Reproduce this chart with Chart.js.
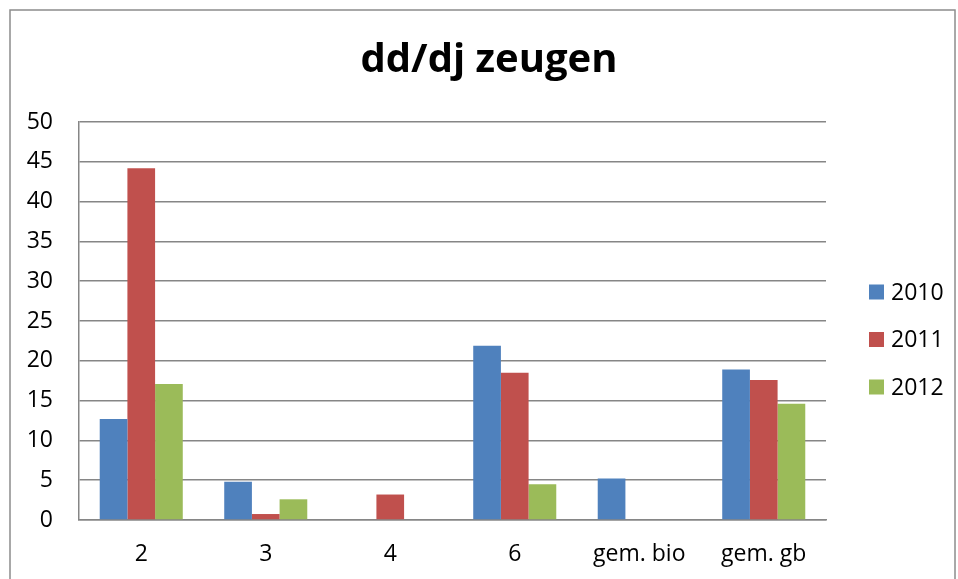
<!DOCTYPE html>
<html>
<head>
<meta charset="utf-8">
<script src="https://cdn.jsdelivr.net/npm/chart.js@4/dist/chart.umd.min.js"></script>
<style>
html,body{margin:0;padding:0;background:#fff;}
#wrap{width:958px;height:579px;position:relative;}
</style>
</head>
<body>
<div id="wrap"><canvas id="c" width="958" height="579"></canvas></div>
<script>
const categories = ["2", "3", "4", "6", "gem. bio", "gem. gb"];
const seriesNames = ["2010", "2011", "2012"];
const values2010 = [12.7, 4.8, null, 21.9, 5.2, 18.9];
const values2011 = [44.2, 0.75, 3.2, 18.5, null, 17.6];
const values2012 = [17.1, 2.6, null, 4.5, null, 14.6];
const seriesColors = ["#4F81BD", "#C0504D", "#9BBB59"];
const titleText = "dd/dj zeugen";

const FONT = "'Open Sans', 'Liberation Sans', sans-serif";
const GRID = "#868686";

const framePlugin = {
  id: 'frame',
  beforeDraw(chart) {
    const ctx = chart.ctx;
    ctx.save();
    ctx.fillStyle = '#fff';
    ctx.fillRect(0, 0, chart.width, chart.height);
    ctx.strokeStyle = '#8c8c8c';
    ctx.lineWidth = 1.5;
    ctx.strokeRect(10, 10, 945, 620);
    ctx.restore();
  }
};

const legendPlugin = {
  id: 'sideLegend',
  afterDraw(chart) {
    const ctx = chart.ctx;
    ctx.save();
    ctx.font = "23px " + FONT;
    ctx.textBaseline = 'middle';
    ctx.textAlign = 'left';
    const ys = [292, 339.5, 387];
    chart.data.datasets.forEach((ds, i) => {
      const y = ys[i];
      ctx.fillStyle = ds.backgroundColor;
      ctx.fillRect(869, y - 7.5, 15, 15);
      ctx.fillStyle = '#000';
      ctx.fillText(ds.label, 891, y + 1);
    });
    ctx.restore();
  }
};

const datasets = [values2010, values2011, values2012].map((vals, i) => ({
  label: seriesNames[i],
  data: vals,
  backgroundColor: seriesColors[i],
  borderWidth: 0,
  categoryPercentage: 0.667,
  barPercentage: 1.0,
  yAxisID: 'y'
}));

new Chart(document.getElementById('c'), {
  type: 'bar',
  data: { labels: categories, datasets: datasets },
  options: {
    responsive: false,
    animation: false,
    layout: { padding: { left: 20, right: 0, top: 0, bottom: 0 } },
    plugins: {
      legend: { display: false },
      tooltip: { enabled: false },
      title: {
        display: true,
        text: titleText,
        color: '#000',
        font: { family: FONT, size: 40, weight: 'bold', lineHeight: 1.2 },
        padding: { top: 37, bottom: 37 }
      }
    },
    scales: {
      x: {
        grid: { display: false, drawTicks: false },
        border: { display: true, color: GRID, width: 1.5 },
        ticks: { color: '#000', font: { family: FONT, size: 23 }, padding: 21, maxRotation: 0 },
        afterFit(s) { s.height = 59; }
      },
      y: {
        min: 0, max: 50,
        ticks: { stepSize: 5, color: '#000', font: { family: FONT, size: 23 }, padding: 26 },
        grid: { color: GRID, lineWidth: 1.5, drawTicks: false },
        border: { display: true, color: GRID, width: 1.5 },
        afterFit(s) { s.width = 59; }
      },
      yRight: {
        position: 'right',
        display: true,
        min: 0, max: 50,
        grid: { display: false, drawTicks: false },
        border: { display: false },
        ticks: { display: false },
        afterFit(s) { s.width = 132; }
      }
    }
  },
  plugins: [framePlugin, legendPlugin]
});
</script>
</body>
</html>
